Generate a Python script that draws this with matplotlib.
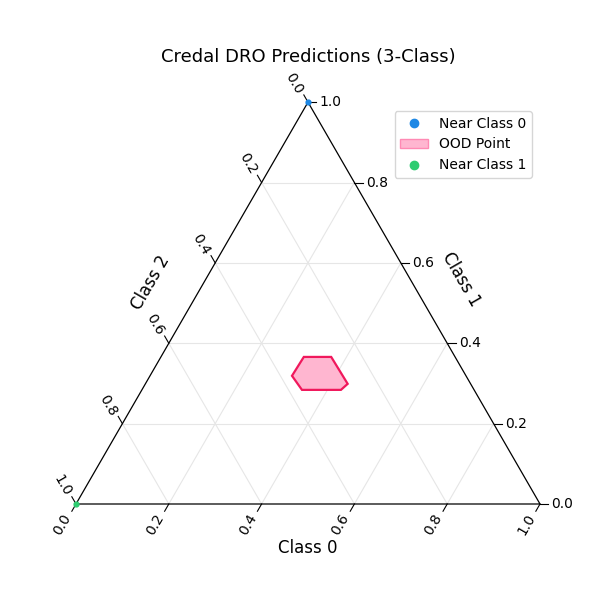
import matplotlib
matplotlib.use("Agg")
import matplotlib.pyplot as plt
from matplotlib.patches import Patch
from matplotlib.lines import Line2D
import numpy as np

# probabilities (class0, class1, class2)
ood_p0 = [0.308, 0.367, 0.436, 0.429, 0.345, 0.306]
ood_p1 = [0.366, 0.366, 0.299, 0.284, 0.284, 0.319]
near0 = (0.0, 1.0, 0.0)
near1 = (0.0, 0.0, 1.0)
ticks = [0.0, 0.2, 0.4, 0.6, 0.8, 1.0]

H = np.sqrt(3) / 2
def cart(p0, p1):
    p0 = np.asarray(p0); p1 = np.asarray(p1)
    return p0 + p1 * 0.5, p1 * H

fig = plt.figure(figsize=(6, 6), dpi=100)
ax = fig.add_axes([0, 0, 1, 1])
ax.set_xlim(-76/464, 524/464)
ax.set_ylim(-96/464, 504/464)
ax.axis('off')

for t in ticks[1:-1]:
    for a, b in [((t, 0), (t, 1 - t)), ((0, t), (1 - t, t)), ((0, 1 - t), (1 - t, 0))]:
        x, y = cart([a[0], b[0]], [a[1], b[1]])
        ax.plot(x, y, color='#e6e6e6', lw=0.8, zorder=1)
ax.plot([0, 1, 0.5, 0], [0, 0, H, 0], color='black', lw=0.9, zorder=3)

tl = 0.018
for t in ticks:
    ax.plot([t, t - tl * 0.5], [0, -tl * H], color='black', lw=0.8)
    ax.text(t - 0.03, -0.045, f"{t:.1f}", rotation=60, ha='center', va='center', fontsize=10)
    x, y = 1 - t * 0.5, t * H
    ax.plot([x, x + tl], [y, y], color='black', lw=0.8)
    ax.text(x + 0.025, y, f"{t:.1f}", ha='left', va='center', fontsize=10)
    x, y = 0.5 - t * 0.5, H - t * H
    ax.plot([x, x - tl * 0.5], [y, y + tl * H], color='black', lw=0.8)
    ax.text(x - 0.03, y + 0.04, f"{t:.1f}", rotation=-60, ha='center', va='center', fontsize=10)

ax.text(0.5, -0.095, "Class 0", ha='center', va='center', fontsize=12)
ax.text(0.83, 0.485, "Class 1", rotation=-60, ha='center', va='center', fontsize=12)
ax.text(0.16, 0.477, "Class 2", rotation=60, ha='center', va='center', fontsize=12)
ax.text(0.5, 0.963, "Credal DRO Predictions (3-Class)", ha='center', va='center', fontsize=13)

x, y = cart(*near0[:2])
ax.scatter([x], [y], s=12, color='#1e88e5', zorder=4)
x, y = cart(ood_p0, ood_p1)
ax.fill(x, y, facecolor='#ffb6d0', edgecolor='#f0185c', lw=1.6, zorder=2)
x, y = cart(*near1[:2])
ax.scatter([x], [y], s=12, color='#2ecc71', zorder=4)

handles = [
    Line2D([], [], marker='o', ls='', color='#1e88e5', markersize=6, label='Near Class 0'),
    Patch(facecolor='#ffb6d0', edgecolor='#ff8ab4', label='OOD Point'),
    Line2D([], [], marker='o', ls='', color='#2ecc71', markersize=6, label='Near Class 1'),
]
ax.legend(handles=handles, loc='upper right', bbox_to_anchor=(539/600, 1 - 104/600), fontsize=10)
fig.savefig("out.png", dpi=100)
